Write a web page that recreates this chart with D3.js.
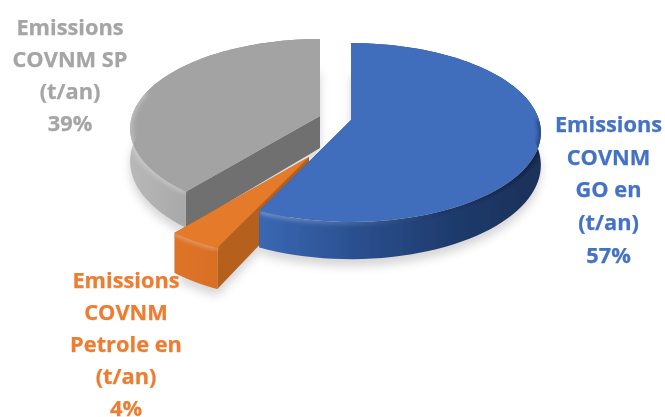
<!DOCTYPE html>
<html>
<head>
<meta charset="utf-8">
<style>html,body{margin:0;padding:0;background:#fff}svg{display:block}text{font-family:"Open Sans",Lato,sans-serif;font-weight:700}</style>
<script src="https://cdn.jsdelivr.net/npm/d3@7/dist/d3.min.js"></script>
</head>
<body>
<svg id="chart" width="665" height="417"></svg>
<script>
// Pie shares, in drawing order (clockwise from 12 o'clock)
const categories = ["Emissions COVNM GO en (t/an)", "Emissions COVNM Petrole en (t/an)", "Emissions COVNM SP (t/an)"];
const shares = [57, 4, 39];
const labelLines = [
  ["Emissions", "COVNM", "GO en", "(t/an)", "57%"],
  ["Emissions", "COVNM", "Petrole en", "(t/an)", "4%"],
  ["Emissions", "COVNM SP", "(t/an)", "39%"]
];

const svg = d3.select("#chart");
const defs = svg.append("defs");

// Perspective disc geometry
const radius = 188, squash = 87.7, persp = 0.14;
const depths = [32, 36, 32];
const apexes = [[351, 120], [309, 157], [320, 116]];
const topColor = d3.scaleOrdinal().domain(categories).range(["#3f6ebd", "#e57a2c", "#a3a3a3"]);
const wallStops = [
  ["#3a68b4", "#2b5090", "#1f3c6e", "#1a3058"],
  ["#dd7427", "#d96f24"],
  ["#b8b8b8", "#a6a6a6", "#8f8f8f", "#8a8a8a"]
];
const cutColor = ["#2b5090", "#b5611f", "#6f6f6f"];
const bevelStops = [
  [["#fff", 0.32], ["#fff", 0.14], ["#000", 0.08], ["#000", 0.4]],
  [["#fff", 0.3], ["#fff", 0.3]],
  [["#fff", 0.3], ["#fff", 0.3]]
];
const rimFrom = [-0.02, -0.3, -0.3];

const pie = d3.pie().sort(null).value(d => d)(shares);

// Project an angle (clockwise from north, radians) on the rim of slice i
function rim(i, a, drop) {
  const u = Math.sin(a), v = -Math.cos(a), k = 1 / (1 - persp * v);
  return [apexes[i][0] + radius * u * k, apexes[i][1] + squash * v * k + drop * k];
}
function apex(i, drop) { return [apexes[i][0], apexes[i][1] + drop]; }
function arcAngles(p) {
  const n = 80;
  return d3.range(n + 1).map(t => p.startAngle + (p.endAngle - p.startAngle) * t / n);
}
function arcPoints(p, i, drop) { return arcAngles(p).map(a => rim(i, a, drop)); }
const line = d3.line();

function blurFilter(id, dev, pad) {
  const f = defs.append("filter").attr("id", id)
    .attr("x", -pad).attr("y", -pad).attr("width", 1 + 2 * pad).attr("height", 1 + 2 * pad);
  f.append("feGaussianBlur").attr("stdDeviation", dev);
}
blurFilter("soft", 0.55, 0.05);
blurFilter("text", 0.35, 0.05);
blurFilter("halo", 5, 0.2);
blurFilter("bevel", 2, 0.2);

// Soft ground shadow below every slice
const shadow = svg.append("g").attr("filter", "url(#halo)").attr("opacity", 0.3);
pie.forEach((p, i) => {
  const pts = [apex(i, depths[i] + 6)].concat(arcPoints(p, i, depths[i] + 6));
  shadow.append("path").attr("d", line(pts) + "Z").attr("fill", "#777");
});

const chart = svg.append("g").attr("filter", "url(#soft)");

// Back to front: grey, orange, blue
[2, 1, 0].forEach(i => {
  const p = pie[i], depth = depths[i];
  const g = chart.append("g");

  const grad = defs.append("linearGradient").attr("id", "wall" + i).attr("x1", 0).attr("x2", 1).attr("y1", 0).attr("y2", 0);
  wallStops[i].forEach((c, k) => grad.append("stop").attr("offset", k / (wallStops[i].length - 1)).attr("stop-color", c));

  // Straight cut walls
  [p.startAngle, p.endAngle].forEach(a => {
    const quad = [apex(i, 0), rim(i, a, 0), rim(i, a, depth), apex(i, depth)];
    g.append("path").attr("d", line(quad) + "Z").attr("fill", cutColor[i]);
  });

  // Curved outer wall
  const top = arcPoints(p, i, 0), low = arcPoints(p, i, depth).reverse();
  g.append("path").attr("d", line(top.concat(low)) + "Z").attr("fill", `url(#wall${i})`);

  // Top face
  g.append("path").attr("d", line([apex(i, 0)].concat(top)) + "Z").attr("fill", topColor(categories[i]));

  // Rounded bevel along the front of the rim, running over face and wall
  const front = arcAngles(p).filter(a => -Math.cos(a) > rimFrom[i]).map(a => rim(i, a, 0));
  const bevel = defs.append("linearGradient").attr("id", "rimShade" + i)
    .attr("gradientUnits", "userSpaceOnUse")
    .attr("x1", d3.min(front, d => d[0])).attr("x2", d3.max(front, d => d[0])).attr("y1", 0).attr("y2", 0);
  bevelStops[i].forEach((s, k) => bevel.append("stop").attr("offset", k / (bevelStops[i].length - 1))
    .attr("stop-color", s[0]).attr("stop-opacity", s[1]));
  const shape = [apex(i, 0)].concat(top, low);
  defs.append("clipPath").attr("id", "clip" + i).append("path").attr("d", line(shape) + "Z");
  g.append("g").attr("clip-path", `url(#clip${i})`).append("path")
    .attr("d", line(front)).attr("fill", "none")
    .attr("stroke", `url(#rimShade${i})`).attr("stroke-width", 5).attr("filter", "url(#bevel)");
});

// Category labels
const labelCentre = [[608.5, 132], [126, 288], [70, 35]];
const labelStep = [32.7, 32, 32];
const labelFill = ["#4472c4", "#ed7d31", "#a5a5a5"];
labelLines.forEach((lines, i) => {
  const t = svg.append("text").attr("text-anchor", "middle").attr("font-size", 21.8)
    .attr("fill", labelFill[i]).attr("stroke", labelFill[i]).attr("stroke-width", 0.25).attr("filter", "url(#text)");
  lines.forEach((s, k) => t.append("tspan").attr("x", labelCentre[i][0]).attr("y", labelCentre[i][1] + k * labelStep[i]).text(s));
});
</script>
</body>
</html>
